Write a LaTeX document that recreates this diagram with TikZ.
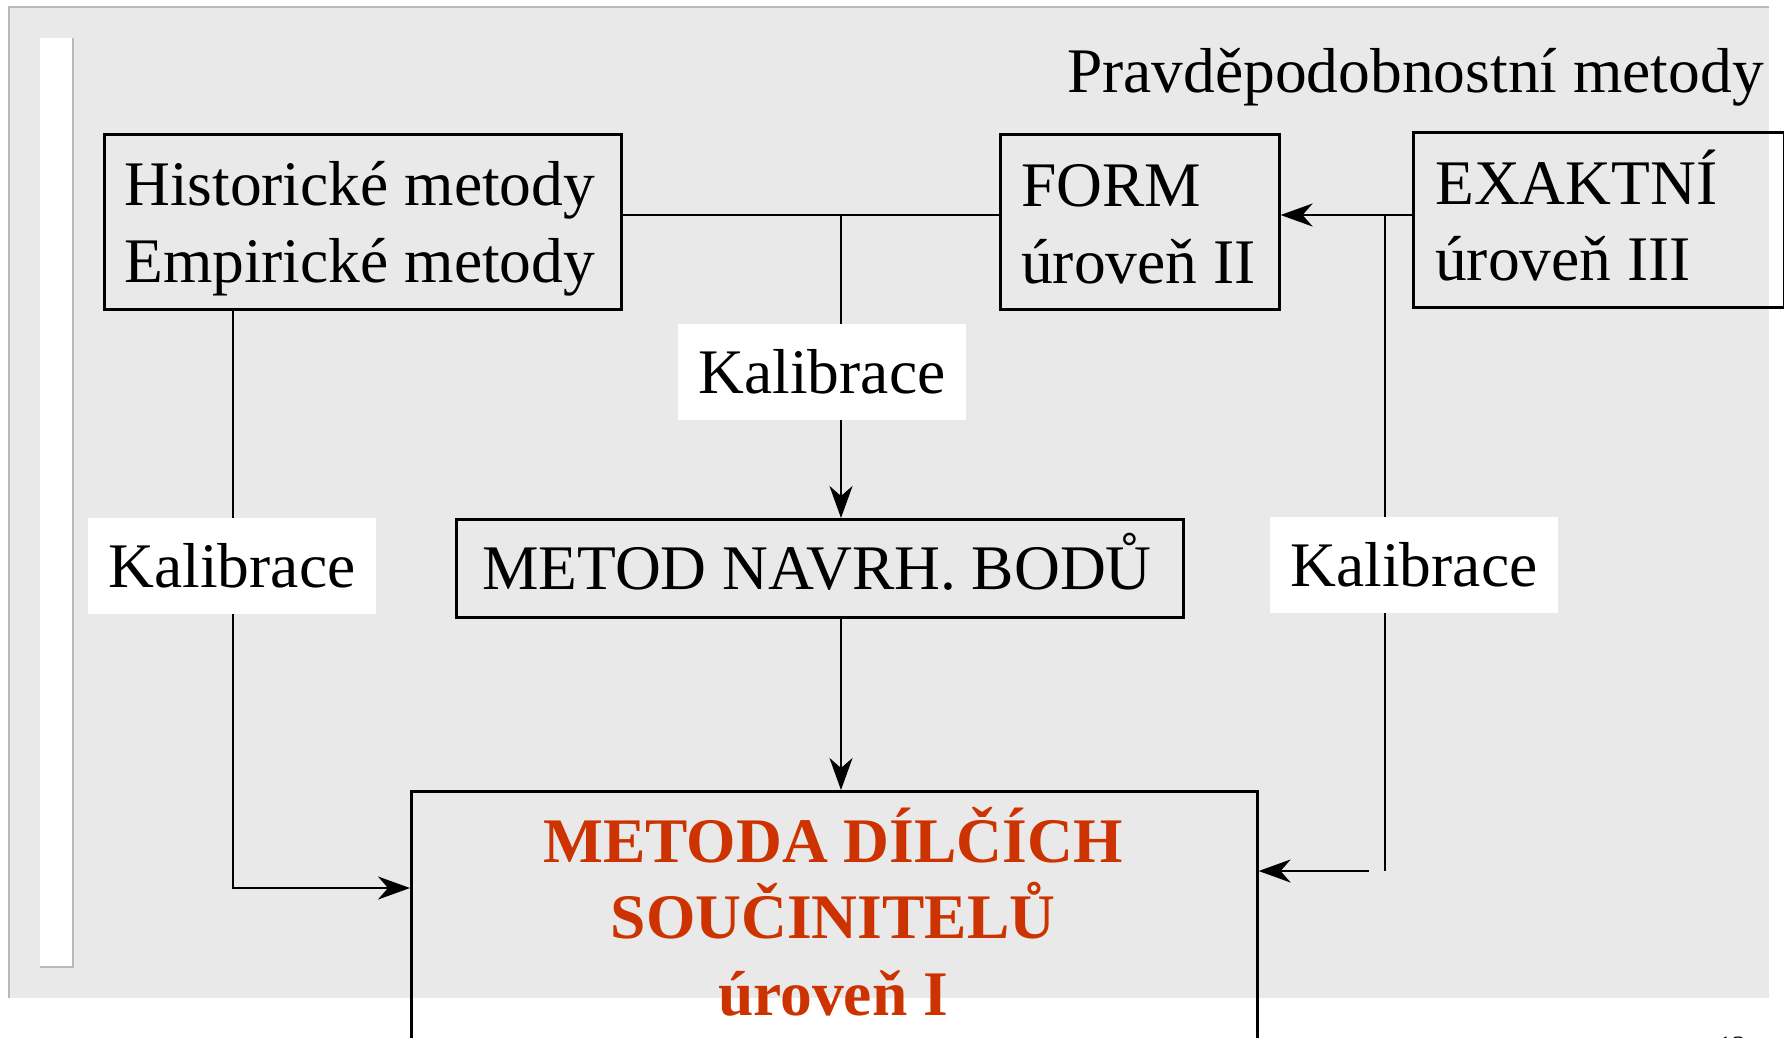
\documentclass[tikz,border=0pt]{standalone}
\usepackage{fontspec}
\setmainfont{Liberation Serif}
\usetikzlibrary{arrows.meta}
\definecolor{bggray}{RGB}{233,233,233}
\definecolor{edgegray}{RGB}{185,185,185}
\definecolor{redtxt}{RGB}{204,51,0}
\begin{document}
\begin{tikzpicture}[x=1pt,y=-1pt,
  boxnode/.style={draw,line width=2.6pt,inner sep=0pt,anchor=north west},
  txt/.style={inner sep=0pt,anchor=base west,font=\fontsize{63.5}{76}\selectfont},
  ctxt/.style={inner sep=0pt,anchor=base,font=\fontsize{63.5}{76}\selectfont},
  redt/.style={inner sep=0pt,anchor=base,text=redtxt,font=\fontsize{63.5}{76}\selectfont\bfseries},
  kal/.style={fill=white,inner sep=0pt,minimum width=288pt,minimum height=96pt,font=\fontsize{63.5}{76}\selectfont},
  conn/.style={line width=2.6pt},
  arr/.style={line width=2.6pt,-{Stealth[length=32pt,width=23pt,inset=10pt]}}]
\useasboundingbox (0,0) rectangle (1784,1037);
\clip (0,0) rectangle (1784,1037);
% background panel
\fill[bggray] (9,7) rectangle (1769,998);
\draw[edgegray,line width=2pt] (9,998) -- (9,7) -- (1769,7);
\fill[white] (40,38) rectangle (73,966);
\draw[edgegray,line width=2pt] (73,38) -- (73,967) -- (40,967);
% title
\node[inner sep=0pt,anchor=base east,font=\fontsize{63.5}{76}\selectfont] (title) at (1764,92) {Pravděpodobnostní metody};
% boxes
\node[boxnode,minimum width=517pt,minimum height=175pt] (hist) at (103,133) {};
\node[boxnode,minimum width=279pt,minimum height=175pt] (form) at (999,133) {};
\node[boxnode,minimum width=371pt,minimum height=175pt] (exakt) at (1412,131) {};
\node[boxnode,minimum width=727pt,minimum height=98pt] (metod) at (455,518) {};
\node[boxnode,minimum width=846pt,minimum height=290pt] (dilci) at (410,790) {};
% box texts
\node[txt] (histA) at (124,205) {Historické metody};
\node[txt] (histB) at (124,282) {Empirické metody};
\node[txt] (formA) at (1021,206) {FORM};
\node[txt] (formB) at (1021,283) {úroveň II};
\node[txt] (exaA) at (1435,204) {EXAKTNÍ};
\node[txt] (exaB) at (1435,280) {úroveň III};
\node[ctxt] (metodT) at (817,589) {METOD NAVRH. BODŮ};
\node[redt] (dilA) at (833,862) {METODA DÍLČÍCH};
\node[redt] (dilB) at (833,938) {SOUČINITELŮ};
\node[redt] (dilC) at (833,1015) {úroveň I};
% page number (mostly cut off)
\node[inner sep=0pt,anchor=base west,font=\fontsize{28}{30}\selectfont] (pnum) at (1718,1055) {12};
% connector coordinates
\coordinate (junc) at (841,215);
\coordinate (rj) at (1385,215);
\coordinate (rb) at (1385,871);
\coordinate (rs) at (1369,871);
\coordinate (lb) at (233,888);
% connectors
\draw[conn] (hist.east |- junc) -- (form.west |- junc);
\draw[arr] (junc) -- (junc |- metod.north);
\draw[arr] (exakt.west |- junc) -- (form.east |- junc);
\draw[conn] (rj) -- (rb);
\draw[arr] (rs) -- (rs -| dilci.east);
\draw[arr] (lb |- hist.south) -- (lb) -- (lb -| dilci.west);
\draw[arr] (junc |- metod.south) -- (junc |- dilci.north);
% calibration labels
\node[kal] (kalL) at (232,566) {Kalibrace};
\node[kal] (kalM) at (822,372) {Kalibrace};
\node[kal] (kalR) at (1414,565) {Kalibrace};
\end{tikzpicture}
\end{document}
